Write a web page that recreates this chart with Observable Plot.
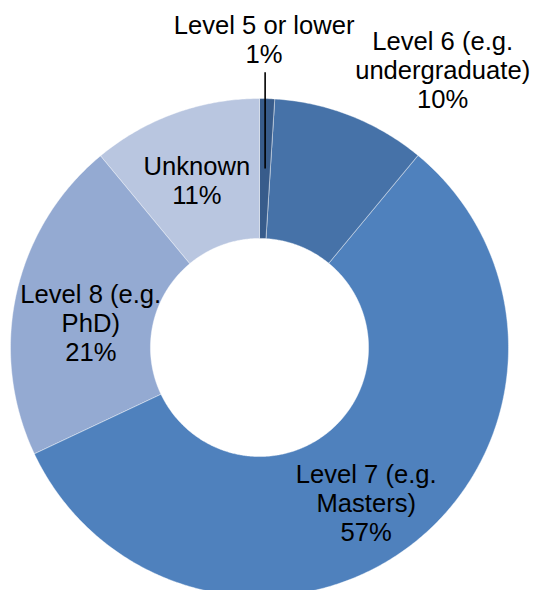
<!DOCTYPE html>
<html>
<head>
<meta charset="utf-8">
<script src="https://cdn.jsdelivr.net/npm/d3@7"></script>
<script src="https://cdn.jsdelivr.net/npm/@observablehq/plot@0.6"></script>
<style>
  html, body { margin: 0; padding: 0; background: #ffffff; }
  #chart svg { display: block; }
</style>
</head>
<body>
<div id="chart"></div>
<script>
// ---- data ----
const categories = ["Level 5 or lower", "Level 6 (e.g.\nundergraduate)", "Level 7 (e.g.\nMasters)", "Level 8 (e.g.\nPhD)", "Unknown"];
const shares = [1, 10, 57, 21, 11];
const colors = ["#385c8b", "#4672a8", "#4f81bd", "#94aad2", "#b9c6e0"];

// ---- layout ----
const W = 535, H = 590;
const CX = 259, CY = 347, R = 249;      // pixel centre and outer radius
const INNER = 0.438;                      // inner radius relative to outer
const MID = (1 + INNER) / 2;

// label nudges in pixels from the default anchor (centroid / outside)
const nudge = [[0, 0], [64, 23], [-3, 14], [6, 14], [-2, 1]];
const outside = [true, true, false, false, false];

const total = d3.sum(shares);
const polar = (a, r) => [r * Math.sin(a), r * Math.cos(a)];

const poly = [];
const labels = [];
let acc = 0;
categories.forEach((cat, i) => {
  const a0 = acc / total * 2 * Math.PI;
  acc += shares[i];
  const a1 = acc / total * 2 * Math.PI;
  const n = Math.max(2, Math.ceil((a1 - a0) / (Math.PI / 360)));
  for (let k = 0; k <= n; k++) {
    const [x, y] = polar(a0 + (a1 - a0) * k / n, 1);
    poly.push({cat, x, y});
  }
  for (let k = n; k >= 0; k--) {
    const [x, y] = polar(a0 + (a1 - a0) * k / n, INNER);
    poly.push({cat, x, y});
  }
  const am = (a0 + a1) / 2;
  const [bx, by] = polar(am, outside[i] ? 1.3 : MID);
  labels.push({
    cat,
    text: cat + "\n" + shares[i] + "%",
    x: bx + nudge[i][0] / R,
    y: by - nudge[i][1] / R,
    am
  });
});

// leader line for the thin first slice
const l0 = labels[0];
const [lx, ly] = polar(l0.am, MID);
const leader = [{x1: lx, y1: ly, x2: lx, y2: 1.105}];
// place the first label above the leader
l0.x = lx - 1 / R;
l0.y = (CY - 39) / R;

const chart = Plot.plot({
  width: W,
  height: H,
  marginLeft: 0, marginRight: 0, marginTop: 0, marginBottom: 0,
  x: {domain: [-CX / R, (W - CX) / R], axis: null},
  y: {domain: [-(H - CY) / R, CY / R], axis: null},
  color: {domain: categories, range: colors},
  style: {background: "white", fontFamily: "'Liberation Sans', Arial, sans-serif", overflow: "visible"},
  marks: [
    Plot.line(poly, {x: "x", y: "y", z: "cat", fill: "cat", stroke: "#ffffff", strokeWidth: 0.6, strokeOpacity: 0.7, curve: "linear-closed"}),
    Plot.link(leader, {x1: "x1", y1: "y1", x2: "x2", y2: "y2", stroke: "#000000", strokeWidth: 1.6}),
    Plot.text(labels, {x: "x", y: "y", text: "text", fontSize: 25.6, lineHeight: 1.14, fill: "#000000", textAnchor: "middle", lineAnchor: "middle"})
  ]
});
document.getElementById("chart").appendChild(chart);
</script>
</body>
</html>
